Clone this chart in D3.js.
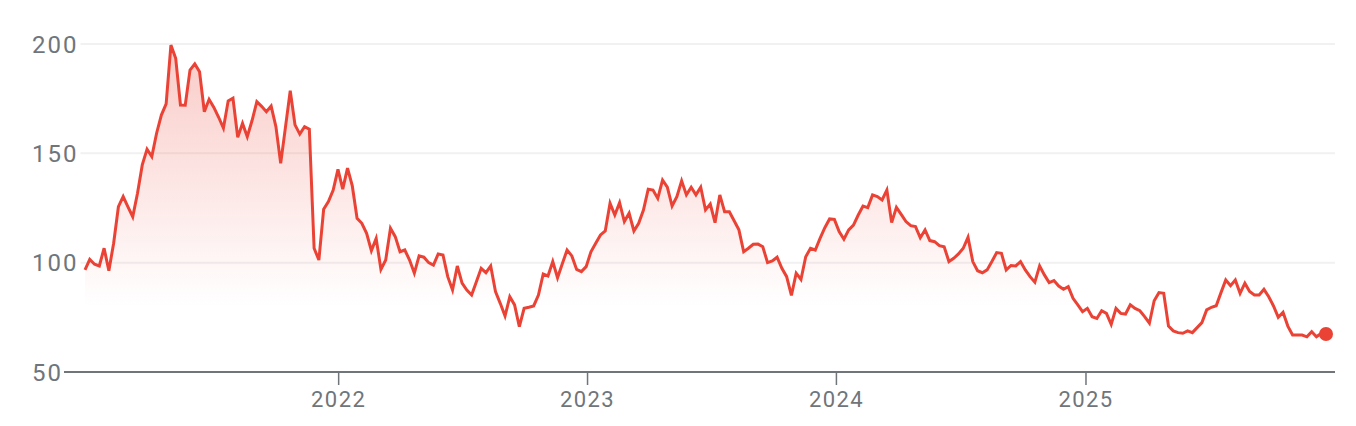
<!DOCTYPE html>
<html>
<head>
<meta charset="utf-8">
<script src="https://cdn.jsdelivr.net/npm/d3@7"></script>
<style>
  html, body { margin: 0; padding: 0; background: #fff; }
  svg { display: block; }
  text { font-family: Roboto, "Noto Sans", sans-serif; fill: #70757a; }
</style>
</head>
<body>
<div id="chart"></div>
<script>
// weekly closes, first week ending 2020-12-25
const startDate = "2020-12-25";
const prices = [
  96.7, 101.5, 99.3, 98.5, 106.6, 96.3, 108.9, 125.6, 130.2, 125.5,
  121, 131.7, 144.7, 151.9, 148.5, 159.2, 167.5, 172.6, 199.5, 193.5,
  172.1, 172, 188.1, 190.9, 187.3, 169, 174.7, 171, 166.5, 161.5,
  174, 175.2, 157.3, 163.7, 157.6, 165, 173.6, 171.5, 169, 171.6,
  162.2, 145.4, 162, 178.6, 163, 158.8, 162.2, 161, 106.6, 101.2,
  124.4, 127.9, 133.2, 142.7, 133.6, 143.2, 135.1, 120.3, 118, 113.4,
  105.5, 111.1, 96.9, 101.2, 115.7, 111.9, 105, 105.8, 101.2, 95.2,
  103.1, 102.5, 100, 98.9, 104, 103.5, 93.6, 87.5, 98.5, 90.6,
  87.5, 85.2, 91.3, 97.4, 95.4, 98.5, 86.8, 81.4, 75.6, 84.4,
  80.7, 70.7, 79.1, 79.6, 80.2, 85.2, 94.8, 93.9, 100.5, 93.1,
  99.5, 105.8, 103.1, 96.9, 95.9, 98.2, 105, 108.9, 112.7, 114.5,
  127.2, 121.8, 127.4, 118.8, 122.6, 114.5, 118, 124.1, 133.6, 133.2,
  129.4, 137.8, 134.5, 125.9, 130.2, 137.4, 131, 134.5, 131, 134.5,
  124.1, 126.8, 118.3, 131, 123.3, 123.3, 119.2, 115, 105, 106.6,
  108.4, 108.5, 107.3, 100, 100.8, 102.5, 97.4, 93.6, 85, 95.2,
  92.3, 102.7, 106.6, 105.8, 111.1, 116, 120, 119.8, 114.2, 110.7,
  115, 117.2, 121.8, 125.9, 125.2, 131, 130.2, 128.7, 133.2, 118.3,
  125.3, 122.1, 118.8, 116.9, 116.5, 111.4, 115, 110.1, 109.6, 107.8,
  107.3, 100.5, 102, 104, 106.6, 111.6, 100.5, 96.3, 95.4, 96.7,
  100.5, 104.6, 104.3, 96.7, 98.7, 98.5, 100.5, 96.7, 93.6, 91.1,
  98.5, 94.4, 90.9, 91.8, 89.3, 87.8, 89, 83.7, 80.7, 77.6,
  79.1, 75.3, 74.5, 78, 76.8, 71.8, 79.1, 76.8, 76.5, 80.7,
  79.1, 78, 75.3, 72.3, 82.6, 86.3, 86, 71, 68.8, 68,
  67.7, 68.8, 68, 70.3, 72.6, 78.4, 79.6, 80.3, 86.3, 92.1,
  89.5, 92.1, 86, 90.6, 86.8, 85.2, 85.2, 87.8, 84.4, 80.2,
  75, 77.3, 71, 66.9, 66.9, 66.9, 66.1, 68.4, 66.1, 67.7,
  67.4
];
const yTicks = [50, 100, 150, 200];
const xTickYears = ["2022", "2023", "2024", "2025"];

const width = 1356, height = 426;
const plot = { left: 85, right: 1326, top: 44, bottom: 372 };
const red = "#ea4335";

const parse = d3.timeParse("%Y-%m-%d");
const t0 = parse(startDate);
const data = prices.map((v, i) => ({ date: d3.timeDay.offset(t0, i * 7), value: v }));

const x = d3.scaleTime()
    .domain(d3.extent(data, d => d.date))
    .range([plot.left, plot.right]);

const y = d3.scaleLinear()
    .domain([50, 200])
    .range([plot.bottom, plot.top]);

const svg = d3.select("#chart").append("svg")
    .attr("width", width)
    .attr("height", height);

// gradient under the line
const defs = svg.append("defs");
const grad = defs.append("linearGradient")
    .attr("id", "fade")
    .attr("gradientUnits", "userSpaceOnUse")
    .attr("x1", 0).attr("x2", 0)
    .attr("y1", y(200)).attr("y2", y(80));
grad.append("stop").attr("offset", 0).attr("stop-color", red).attr("stop-opacity", 0.28);
grad.append("stop").attr("offset", 1).attr("stop-color", red).attr("stop-opacity", 0);

// y labels and gridlines
const yg = svg.append("g").attr("class", "y-grid");
yTicks.forEach(v => {
    const label = yg.append("text")
        .attr("x", 32)
        .attr("y", y(v))
        .attr("dy", "0.36em")
        .style("font-size", "24px")
        .style("letter-spacing", "2px")
        .text(v);
    const w = label.node().getComputedTextLength();
    yg.append("line")
        .attr("x1", v === 50 ? 32 + w + 1 : 32 + w + 2)
        .attr("x2", 1335)
        .attr("y1", y(v)).attr("y2", y(v))
        .attr("stroke", v === 50 ? "#70757a" : "#f1f1f1")
        .attr("stroke-width", 2);
});

// x ticks and labels
const xg = svg.append("g").attr("class", "x-axis");
xTickYears.forEach(yr => {
    const xp = x(parse(yr + "-01-01"));
    xg.append("line")
        .attr("x1", xp).attr("x2", xp)
        .attr("y1", y(50)).attr("y2", y(50) + 13)
        .attr("stroke", "#70757a")
        .attr("stroke-width", 1.5);
    xg.append("text")
        .attr("x", xp)
        .attr("y", 407)
        .attr("text-anchor", "middle")
        .style("font-size", "22px")
        .style("letter-spacing", "1.4px")
        .text(yr);
});

const area = d3.area()
    .x(d => x(d.date))
    .y0(y(50))
    .y1(d => y(d.value));

const line = d3.line()
    .x(d => x(d.date))
    .y(d => y(d.value));

svg.append("path")
    .datum(data)
    .attr("d", area)
    .attr("fill", "url(#fade)");

svg.append("path")
    .datum(data)
    .attr("d", line)
    .attr("fill", "none")
    .attr("stroke", red)
    .attr("stroke-width", 3)
    .attr("stroke-linejoin", "miter");

const last = data[data.length - 1];
svg.append("circle")
    .attr("cx", x(last.date))
    .attr("cy", y(last.value))
    .attr("r", 7)
    .attr("fill", red);
</script>
</body>
</html>
